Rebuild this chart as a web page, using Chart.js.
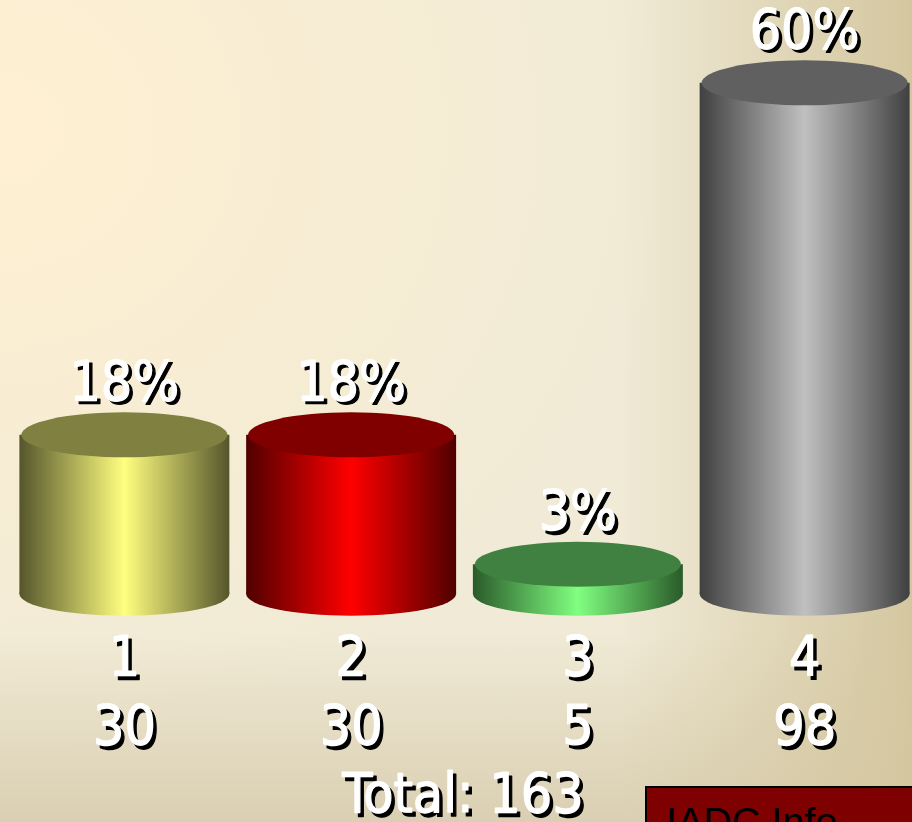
<!DOCTYPE html>
<html>
<head>
<meta charset="utf-8">
<script src="https://cdn.jsdelivr.net/npm/chart.js@4"></script>
<style>
    html, body { margin: 0; height: 100%; overflow: hidden; }
    body {
        position: relative;
        background:
            linear-gradient(to right, rgba(212, 199, 160, 0) 68%, rgba(212, 199, 160, 1) 100%),
            linear-gradient(to bottom, rgba(218, 207, 178, 0) 77%, rgba(218, 207, 178, 1) 100%),
            radial-gradient(ellipse 680px 620px at 0 130px, #fff0d2, #f0ead6 100%);
    }
    #chart { position: absolute; left: 0; top: 0; }
    #info {
        position: absolute; left: 645px; top: 786px; width: 267px; height: 36px;
        box-sizing: border-box; border: 2px solid #000; border-right: 0; border-bottom: 0;
        background: #7f0000; color: #000; overflow: hidden;
        font: 39.5px "Liberation Sans", sans-serif; line-height: 66px; padding-left: 19px;
    }
</style>
</head>
<body>
<canvas id="chart" width="918" height="822"></canvas>
<div id="info">IADC Info</div>
<script>
const categories = ['1', '2', '3', '4'];
const counts = [30, 30, 5, 98];
const percents = ['18%', '18%', '3%', '60%'];
const totalLabel = 'Total: 163';
const lightColors = ['#ffff80', '#ff0000', '#80ff80', '#c0c0c0'];
const topColors = ['#808040', '#800000', '#408040', '#606060'];
const edgeColors = ['#55552c', '#500000', '#2a5a2a', '#404040'];

const labelFont = '55px "DejaVu Sans Condensed", "DejaVu Sans", sans-serif';

// filled once the x scale has its size
let sideGradients = [];

const sideGradient = (ctx, x, i) => {
    const g = ctx.createLinearGradient(x - 105, 0, x + 105, 0);
    g.addColorStop(0, edgeColors[i]);
    g.addColorStop(0.5, lightColors[i]);
    g.addColorStop(1, edgeColors[i]);
    return g;
};

const shadowText = (ctx, text, x, y) => {
    ctx.lineWidth = 1.2;
    ctx.lineJoin = 'round';
    ctx.fillStyle = ctx.strokeStyle = '#000';
    ctx.fillText(text, x + 3.5, y + 3.5);
    ctx.strokeText(text, x + 3.5, y + 3.5);
    ctx.fillStyle = ctx.strokeStyle = '#fff';
    ctx.fillText(text, x, y);
    ctx.strokeText(text, x, y);
};

const cylinderPlugin = {
    id: 'cylinders',
    afterLayout(chart) {
        sideGradients = categories.map((c, i) => sideGradient(chart.ctx, chart.scales.x.getPixelForValue(i), i));
    },
    beforeDatasetsDraw(chart) {
        const ctx = chart.ctx;
        chart.getDatasetMeta(0).data.forEach((bar, i) => {
            ctx.save();
            ctx.fillStyle = sideGradients[i];
            ctx.beginPath();
            ctx.ellipse(bar.x, bar.base, 105, 22, 0, 0, Math.PI * 2);
            ctx.fill();
            ctx.restore();
        });
    },
    afterDatasetsDraw(chart) {
        const ctx = chart.ctx;
        chart.getDatasetMeta(0).data.forEach((bar, i) => {
            ctx.save();
            ctx.fillStyle = topColors[i];
            ctx.beginPath();
            ctx.ellipse(bar.x, bar.y, 103, 22.5, 0, 0, Math.PI * 2);
            ctx.fill();
            ctx.restore();
        });
    },
    afterDraw(chart) {
        const ctx = chart.ctx;
        ctx.save();
        ctx.font = labelFont;
        ctx.textAlign = 'center';
        ctx.textBaseline = 'alphabetic';
        chart.getDatasetMeta(0).data.forEach((bar, i) => {
            shadowText(ctx, percents[i], bar.x, bar.y - 35);
            shadowText(ctx, categories[i], bar.x, 675);
            shadowText(ctx, String(counts[i]), bar.x, 744);
        });
        shadowText(ctx, totalLabel, 463, 812);
        ctx.restore();
    }
};

new Chart(document.getElementById('chart'), {
    type: 'bar',
    plugins: [cylinderPlugin],
    data: {
        labels: categories,
        datasets: [{
            data: counts,
            base: -0.7,
            barPercentage: 0.926,
            categoryPercentage: 1,
            backgroundColor: (c) => sideGradients[c.dataIndex] || lightColors[0]
        }]
    },
    options: {
        responsive: false,
        animation: false,
        layout: { padding: { left: 11, right: 0, top: 0, bottom: 206 } },
        plugins: { legend: { display: false }, tooltip: { enabled: false } },
        scales: {
            x: { display: false },
            y: { display: false, min: -5, max: 114 }
        }
    }
});
</script>
</body>
</html>
